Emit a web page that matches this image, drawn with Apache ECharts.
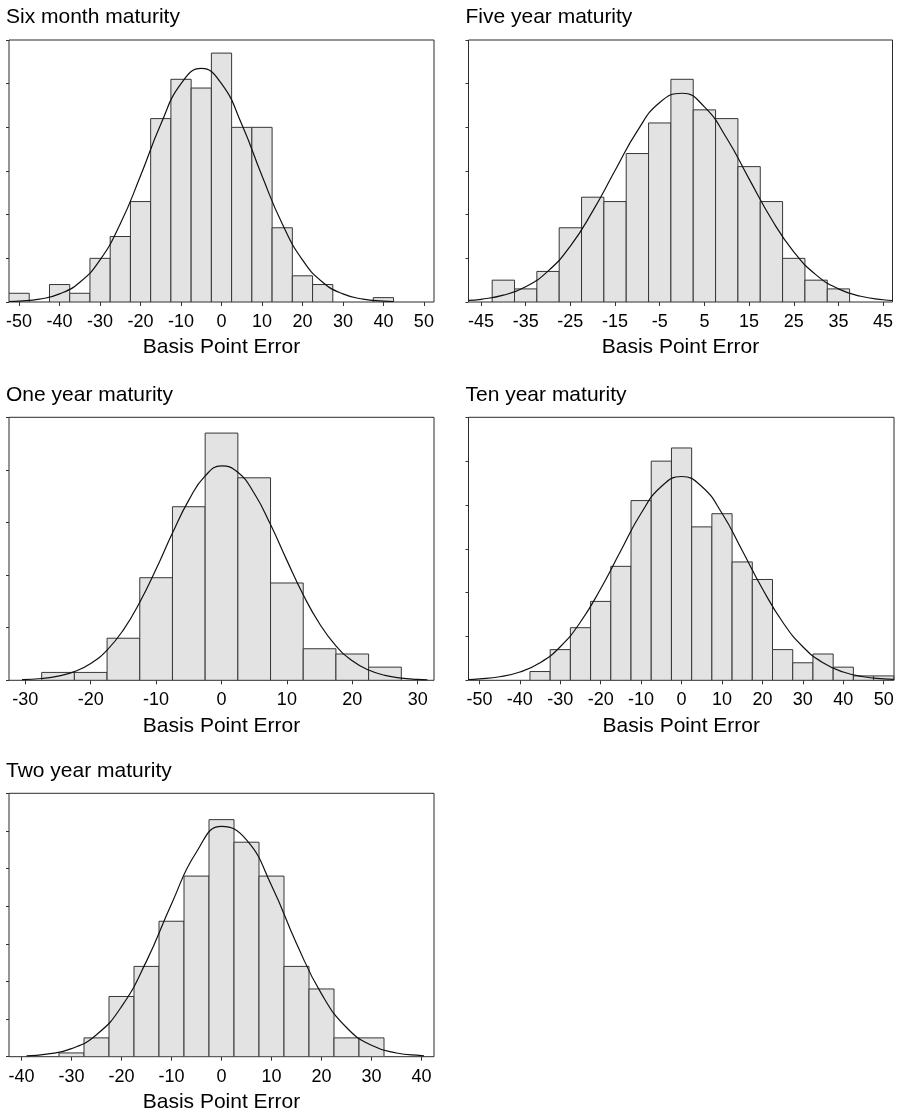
<!DOCTYPE html>
<html>
<head>
<meta charset="utf-8">
<title>Basis point error histograms</title>
<script src="https://cdn.jsdelivr.net/npm/echarts@6/dist/echarts.min.js"></script>
<style>
  html, body { margin: 0; padding: 0; background: #ffffff; }
  #chart { width: 898px; height: 1113px; }
</style>
</head>
<body>
<div id="chart"></div>
<script>
// Width of every histogram bin, in basis points
const binWidth = 5;

const panelTitles = [
  'Six month maturity',
  'Five year maturity',
  'One year maturity',
  'Ten year maturity',
  'Two year maturity'
];
const axisTitle = 'Basis Point Error';

// Six month maturity
const sixMonthBins   = [-50, -45, -40, -35, -30, -25, -20, -15, -10, -5, 0, 5, 10, 15, 20, 25, 30, 35, 40];
const sixMonthCounts = [2, 0, 4, 2, 10, 15, 23, 42, 51, 49, 57, 40, 40, 17, 6, 4, 0, 0, 1];
const sixMonthCurveX = [-52.5, -50, -45, -40, -35, -30, -25, -20, -15, -10, -5, 0, 5, 10, 15, 20, 25, 30, 35, 40, 42.5];
const sixMonthCurveY = [0.11, 0.21, 0.66, 1.86, 4.53, 9.63, 17.9, 28.9, 40.7, 50.0, 53.5, 50.0, 40.7, 28.9, 17.9, 9.63, 4.53, 1.86, 0.66, 0.21, 0.11];
const sixMonthTicks  = [-50, -40, -30, -20, -10, 0, 10, 20, 30, 40, 50];

// Five year maturity
const fiveYearBins   = [-40, -35, -30, -25, -20, -15, -10, -5, 0, 5, 10, 15, 20, 25, 30, 35];
const fiveYearCounts = [5, 3, 7, 17, 24, 23, 34, 41, 51, 44, 42, 31, 23, 10, 5, 3];
const fiveYearCurveX = [-47.8, -45, -40, -35, -30, -25, -20, -15, -10, -5, 0, 5, 10, 15, 20, 25, 30, 35, 40, 45, 47.1];
const fiveYearCurveY = [0.36, 0.62, 1.56, 3.51, 7.08, 12.8, 20.8, 30.1, 39.2, 45.7, 47.8, 44.7, 37.5, 28.2, 19.0, 11.5, 6.21, 3.01, 1.31, 0.51, 0.34];
const fiveYearTicks  = [-45, -35, -25, -15, -5, 5, 15, 25, 35, 45];

// One year maturity
const oneYearBins   = [-25, -20, -15, -10, -5, 0, 5, 10, 15, 20, 25];
const oneYearCounts = [3, 3, 16, 39, 66, 94, 77, 37, 12, 10, 5];
const oneYearCurveX = [-30.5, -27.5, -25, -22.5, -20, -17.5, -15, -12.5, -10, -7.5, -5, -2.5, 0, 2.5, 5, 7.5, 10, 12.5, 15, 17.5, 20, 22.5, 25, 27.5, 30, 31.5];
const oneYearCurveY = [0.23, 0.69, 1.57, 3.29, 6.40, 11.5, 19.2, 29.7, 42.3, 56.0, 68.5, 77.7, 81.5, 79.1, 71.1, 59.2, 45.6, 32.5, 21.5, 13.1, 7.43, 3.89, 1.89, 0.85, 0.35, 0.20];
const oneYearTicks  = [-30, -20, -10, 0, 10, 20, 30];

// Ten year maturity
const tenYearBins   = [-35, -30, -25, -20, -15, -10, -5, 0, 5, 10, 15, 20, 25, 30, 35, 40, 45, 50];
const tenYearCounts = [2, 7, 12, 18, 26, 41, 50, 53, 35, 38, 27, 23, 7, 4, 6, 3, 1, 1];
const tenYearCurveX = [-52.7, -50, -45, -40, -35, -30, -25, -20, -15, -10, -5, 0, 5, 10, 15, 20, 25, 30, 35, 40, 45, 50, 52.5];
const tenYearCurveY = [0.18, 0.31, 0.81, 1.89, 4.00, 7.66, 13.3, 20.9, 29.6, 38.1, 44.2, 46.5, 44.2, 38.1, 29.6, 20.9, 13.3, 7.66, 4.00, 1.89, 0.81, 0.31, 0.19];
const tenYearTicks  = [-50, -40, -30, -20, -10, 0, 10, 20, 30, 40, 50];

// Two year maturity
const twoYearBins   = [-30, -25, -20, -15, -10, -5, 0, 5, 10, 15, 20, 25, 30];
const twoYearCounts = [1, 5, 16, 24, 36, 48, 63, 57, 48, 24, 18, 5, 5];
const twoYearCurveX = [-39, -35, -30, -25, -20, -15, -10, -5, 0, 5, 10, 15, 20, 25, 30, 35, 40, 40.5];
const twoYearCurveY = [0.23, 0.66, 2.15, 5.85, 13.3, 25.4, 40.6, 54.4, 61.2, 57.6, 45.5, 30.1, 16.7, 7.75, 3.02, 0.99, 0.27, 0.23];
const twoYearTicks  = [-40, -30, -20, -10, 0, 10, 20, 30, 40];

const FONT = '"Liberation Sans", Arial, Helvetica, sans-serif';
const BAR_FILL = '#e3e3e3';
const BAR_EDGE = '#363636';
const FRAME = '#2b2b2b';

// Panel layout: plot box [left, top, width, height] and axis ranges
const panels = [
  { title: panelTitles[0], bins: sixMonthBins, counts: sixMonthCounts, cx: sixMonthCurveX, cy: sixMonthCurveY,
    ticks: sixMonthTicks, xMin: -52.5, xMax: 52.5, yMax: 60, yStep: 10, box: [9, 40, 425, 262] },
  { title: panelTitles[1], bins: fiveYearBins, counts: fiveYearCounts, cx: fiveYearCurveX, cy: fiveYearCurveY,
    ticks: fiveYearTicks, xMin: -47.8, xMax: 47.1, yMax: 60, yStep: 10, box: [468.5, 40, 424, 262] },
  { title: panelTitles[2], bins: oneYearBins, counts: oneYearCounts, cx: oneYearCurveX, cy: oneYearCurveY,
    ticks: oneYearTicks, xMin: -32.5, xMax: 32.5, yMax: 100, yStep: 20, box: [9, 417.3, 425, 263] },
  { title: panelTitles[3], bins: tenYearBins, counts: tenYearCounts, cx: tenYearCurveX, cy: tenYearCurveY,
    ticks: tenYearTicks, xMin: -52.7, xMax: 52.55, yMax: 60, yStep: 10, box: [468.5, 417.3, 425.5, 263] },
  { title: panelTitles[4], bins: twoYearBins, counts: twoYearCounts, cx: twoYearCurveX, cy: twoYearCurveY,
    ticks: twoYearTicks, xMin: -42.5, xMax: 42.5, yMax: 70, yStep: 10, box: [9, 793.3, 425, 263.4] }
];

// One rectangle per bin, placed through the panel's own axes
function renderBin(params, api) {
  const centre = api.value(0);
  const count = api.value(1);
  if (!count) return null;
  const topLeft = api.coord([centre - binWidth / 2, count]);
  const bottomRight = api.coord([centre + binWidth / 2, 0]);
  return {
    type: 'rect',
    shape: {
      x: topLeft[0],
      y: topLeft[1],
      width: bottomRight[0] - topLeft[0],
      height: bottomRight[1] - topLeft[1]
    },
    style: { fill: BAR_FILL, stroke: BAR_EDGE, lineWidth: 1 }
  };
}

const option = {
  animation: false,
  backgroundColor: '#ffffff',
  textStyle: { fontFamily: FONT },
  title: [],
  grid: [],
  xAxis: [],
  yAxis: [],
  series: []
};

panels.forEach((p, i) => {
  const [left, top, width, height] = p.box;
  option.title.push({
    text: p.title,
    left: left - 3,
    top: top - 33,
    padding: 0,
    textStyle: { fontSize: 21, fontWeight: 'normal', color: '#000', fontFamily: FONT }
  });
  option.grid.push({
    left: left, top: top, width: width, height: height,
    show: true, borderColor: FRAME, borderWidth: 1, backgroundColor: 'transparent',
    containLabel: false, outerBoundsMode: 'none'
  });
  option.xAxis.push({
    gridIndex: i,
    type: 'value',
    position: 'bottom',
    min: p.xMin,
    max: p.xMax,
    name: axisTitle,
    nameLocation: 'middle',
    nameGap: 35,
    nameTextStyle: { fontSize: 21, color: '#000', fontFamily: FONT },
    axisLine: { show: false, onZero: false },
    axisTick: { show: true, inside: false, length: 4, customValues: p.ticks, lineStyle: { color: '#333', width: 1 } },
    axisLabel: { show: true, customValues: p.ticks, fontSize: 18, color: '#000', margin: 11, fontFamily: FONT, hideOverlap: false },
    splitLine: { show: false }
  });
  option.yAxis.push({
    gridIndex: i,
    type: 'value',
    position: 'left',
    min: 0,
    max: p.yMax,
    interval: p.yStep,
    axisLine: { show: false, onZero: false },
    axisTick: { show: true, inside: false, length: 3, lineStyle: { color: '#333', width: 1 } },
    axisLabel: { show: false },
    splitLine: { show: false }
  });
  option.series.push({
    type: 'custom',
    xAxisIndex: i,
    yAxisIndex: i,
    data: p.bins.map((c, k) => [c, p.counts[k]]),
    renderItem: renderBin,
    clip: true,
    silent: true,
    z: 2
  });
  option.series.push({
    type: 'line',
    xAxisIndex: i,
    yAxisIndex: i,
    data: p.cx.map((x, k) => [x, p.cy[k]]),
    smooth: 0.5,
    showSymbol: false,
    symbol: 'none',
    clip: true,
    silent: true,
    lineStyle: { color: '#111', width: 1.2 },
    z: 3
  });
});

const chart = echarts.init(document.getElementById('chart'), null, { renderer: 'canvas' });
chart.setOption(option);
</script>
</body>
</html>
